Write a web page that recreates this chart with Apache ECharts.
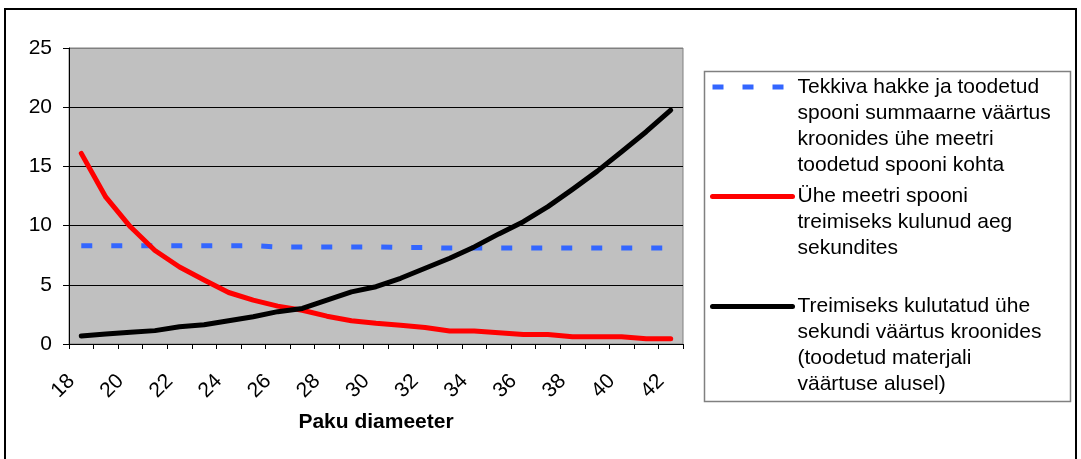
<!DOCTYPE html>
<html>
<head>
<meta charset="utf-8">
<script src="https://cdn.jsdelivr.net/npm/echarts@6/dist/echarts.min.js"></script>
<style>
html,body{margin:0;padding:0;background:#fff;}
#chart{width:1081px;height:459px;}
</style>
</head>
<body>
<div id="chart"></div>
<script>
// Categories: Paku diameeter
const categories = ['18','19','20','21','22','23','24','25','26','27','28','29','30','31','32','33','34','35','36','37','38','39','40','41','42'];
// Tekkiva hakke ja toodetud spooni summaarne väärtus kroonides ühe meetri toodetud spooni kohta
const valueSeries = [8.3,8.3,8.3,8.3,8.3,8.3,8.3,8.3,8.2,8.2,8.2,8.2,8.2,8.15,8.15,8.1,8.1,8.1,8.1,8.1,8.1,8.1,8.1,8.1,8.1];
// Ühe meetri spooni treimiseks kulunud aeg sekundites
const timeSeries = [16.1,12.4,9.9,7.9,6.5,5.4,4.35,3.7,3.2,2.85,2.35,1.97,1.75,1.58,1.4,1.1,1.1,0.96,0.8,0.8,0.62,0.62,0.62,0.45,0.45];
// Treimiseks kulutatud ühe sekundi väärtus kroonides
const secondValueSeries = [0.68,0.84,1.0,1.13,1.46,1.63,1.97,2.3,2.73,3.0,3.7,4.4,4.84,5.55,6.4,7.24,8.2,9.3,10.33,11.6,13.06,14.58,16.24,17.93,19.76];
const seriesNames = [
  'Tekkiva hakke ja toodetud\nspooni summaarne väärtus\nkroonides ühe meetri\ntoodetud spooni kohta',
  'Ühe meetri spooni\ntreimiseks kulunud aeg\nsekundites',
  'Treimiseks kulutatud ühe\nsekundi väärtus kroonides\n(toodetud materjali\nväärtuse alusel)'
];
const xTitle = 'Paku diameeter';

const FONT = 'Liberation Sans, Arial, sans-serif';
const FS = 21;
const LH = 26;

function legendFor(name, iconCenterY) {
  const nLines = name.split('\n').length;
  const H = (2 * nLines - 1) * LH;
  return {
    show: true,
    orient: 'vertical',
    left: 710,
    top: iconCenterY - H / 2,
    padding: 0,
    itemWidth: 80,
    itemHeight: 14,
    data: [name],
    selectedMode: false,
    formatter: function (n) { return '\n'.repeat(nLines - 1) + n; },
    lineStyle: { width: 5 },
    itemStyle: { opacity: 0, borderWidth: 0 },
    textStyle: { fontFamily: FONT, fontSize: FS, lineHeight: LH, color: '#000' }
  };
}

const chart = echarts.init(document.getElementById('chart'), null, { renderer: 'canvas' });
chart.setOption({
  animation: false,
  backgroundColor: '#fff',
  textStyle: { fontFamily: FONT },
  graphic: [
    { type: 'rect', z: -10, shape: { x: 5, y: 9, width: 1071, height: 470 }, style: { fill: 'none', stroke: '#000', lineWidth: 2 } },
    { type: 'rect', z: 0, shape: { x: 704.5, y: 71.5, width: 366, height: 330 }, style: { fill: '#fff', stroke: '#808080', lineWidth: 1.5 } }
  ],
  legend: [
    legendFor(seriesNames[0], 87),
    legendFor(seriesNames[1], 196.5),
    legendFor(seriesNames[2], 306.5)
  ],
  grid: {
    left: 69, right: 398, top: 48, bottom: 115,
    show: true, backgroundColor: '#C0C0C0', borderColor: '#808080', borderWidth: 1,
    containLabel: false
  },
  xAxis: {
    type: 'category',
    data: categories,
    boundaryGap: true,
    name: xTitle,
    nameLocation: 'middle',
    nameGap: 68,
    nameMoveOverlap: false,
    nameTextStyle: { fontFamily: FONT, fontSize: FS, fontWeight: 'bold', color: '#000' },
    axisLine: { show: true, lineStyle: { color: '#000', width: 1 } },
    axisTick: { show: true, interval: 0, length: 5, alignWithLabel: false, lineStyle: { color: '#000' } },
    axisLabel: { interval: 1, rotate: 45, margin: 24, padding: [0, 14, 0, 0], fontFamily: FONT, fontSize: FS, color: '#000' },
    splitLine: { show: false }
  },
  yAxis: {
    type: 'value',
    min: 0, max: 25, interval: 5,
    axisLine: { show: true, lineStyle: { color: '#000', width: 1 } },
    axisTick: { show: true, length: 6, lineStyle: { color: '#000' } },
    axisLabel: { margin: 17, fontFamily: FONT, fontSize: FS, color: '#000' },
    splitLine: { show: true, lineStyle: { color: ['#000', '#000', '#000', '#000', '#000', '#808080'], width: 1 } }
  },
  series: [
    {
      name: seriesNames[0], type: 'line', data: valueSeries, symbol: 'none', z: 3,
      lineStyle: { color: '#3366FF', width: 5, type: [11, 19], cap: 'butt' },
      itemStyle: { color: '#3366FF' }
    },
    {
      name: seriesNames[1], type: 'line', data: timeSeries, symbol: 'none', z: 4,
      lineStyle: { color: '#FF0000', width: 5, cap: 'round', join: 'round' },
      itemStyle: { color: '#FF0000' }
    },
    {
      name: seriesNames[2], type: 'line', data: secondValueSeries, symbol: 'none', z: 5,
      lineStyle: { color: '#000000', width: 5, cap: 'round', join: 'round' },
      itemStyle: { color: '#000000' }
    }
  ]
});
</script>
</body>
</html>
